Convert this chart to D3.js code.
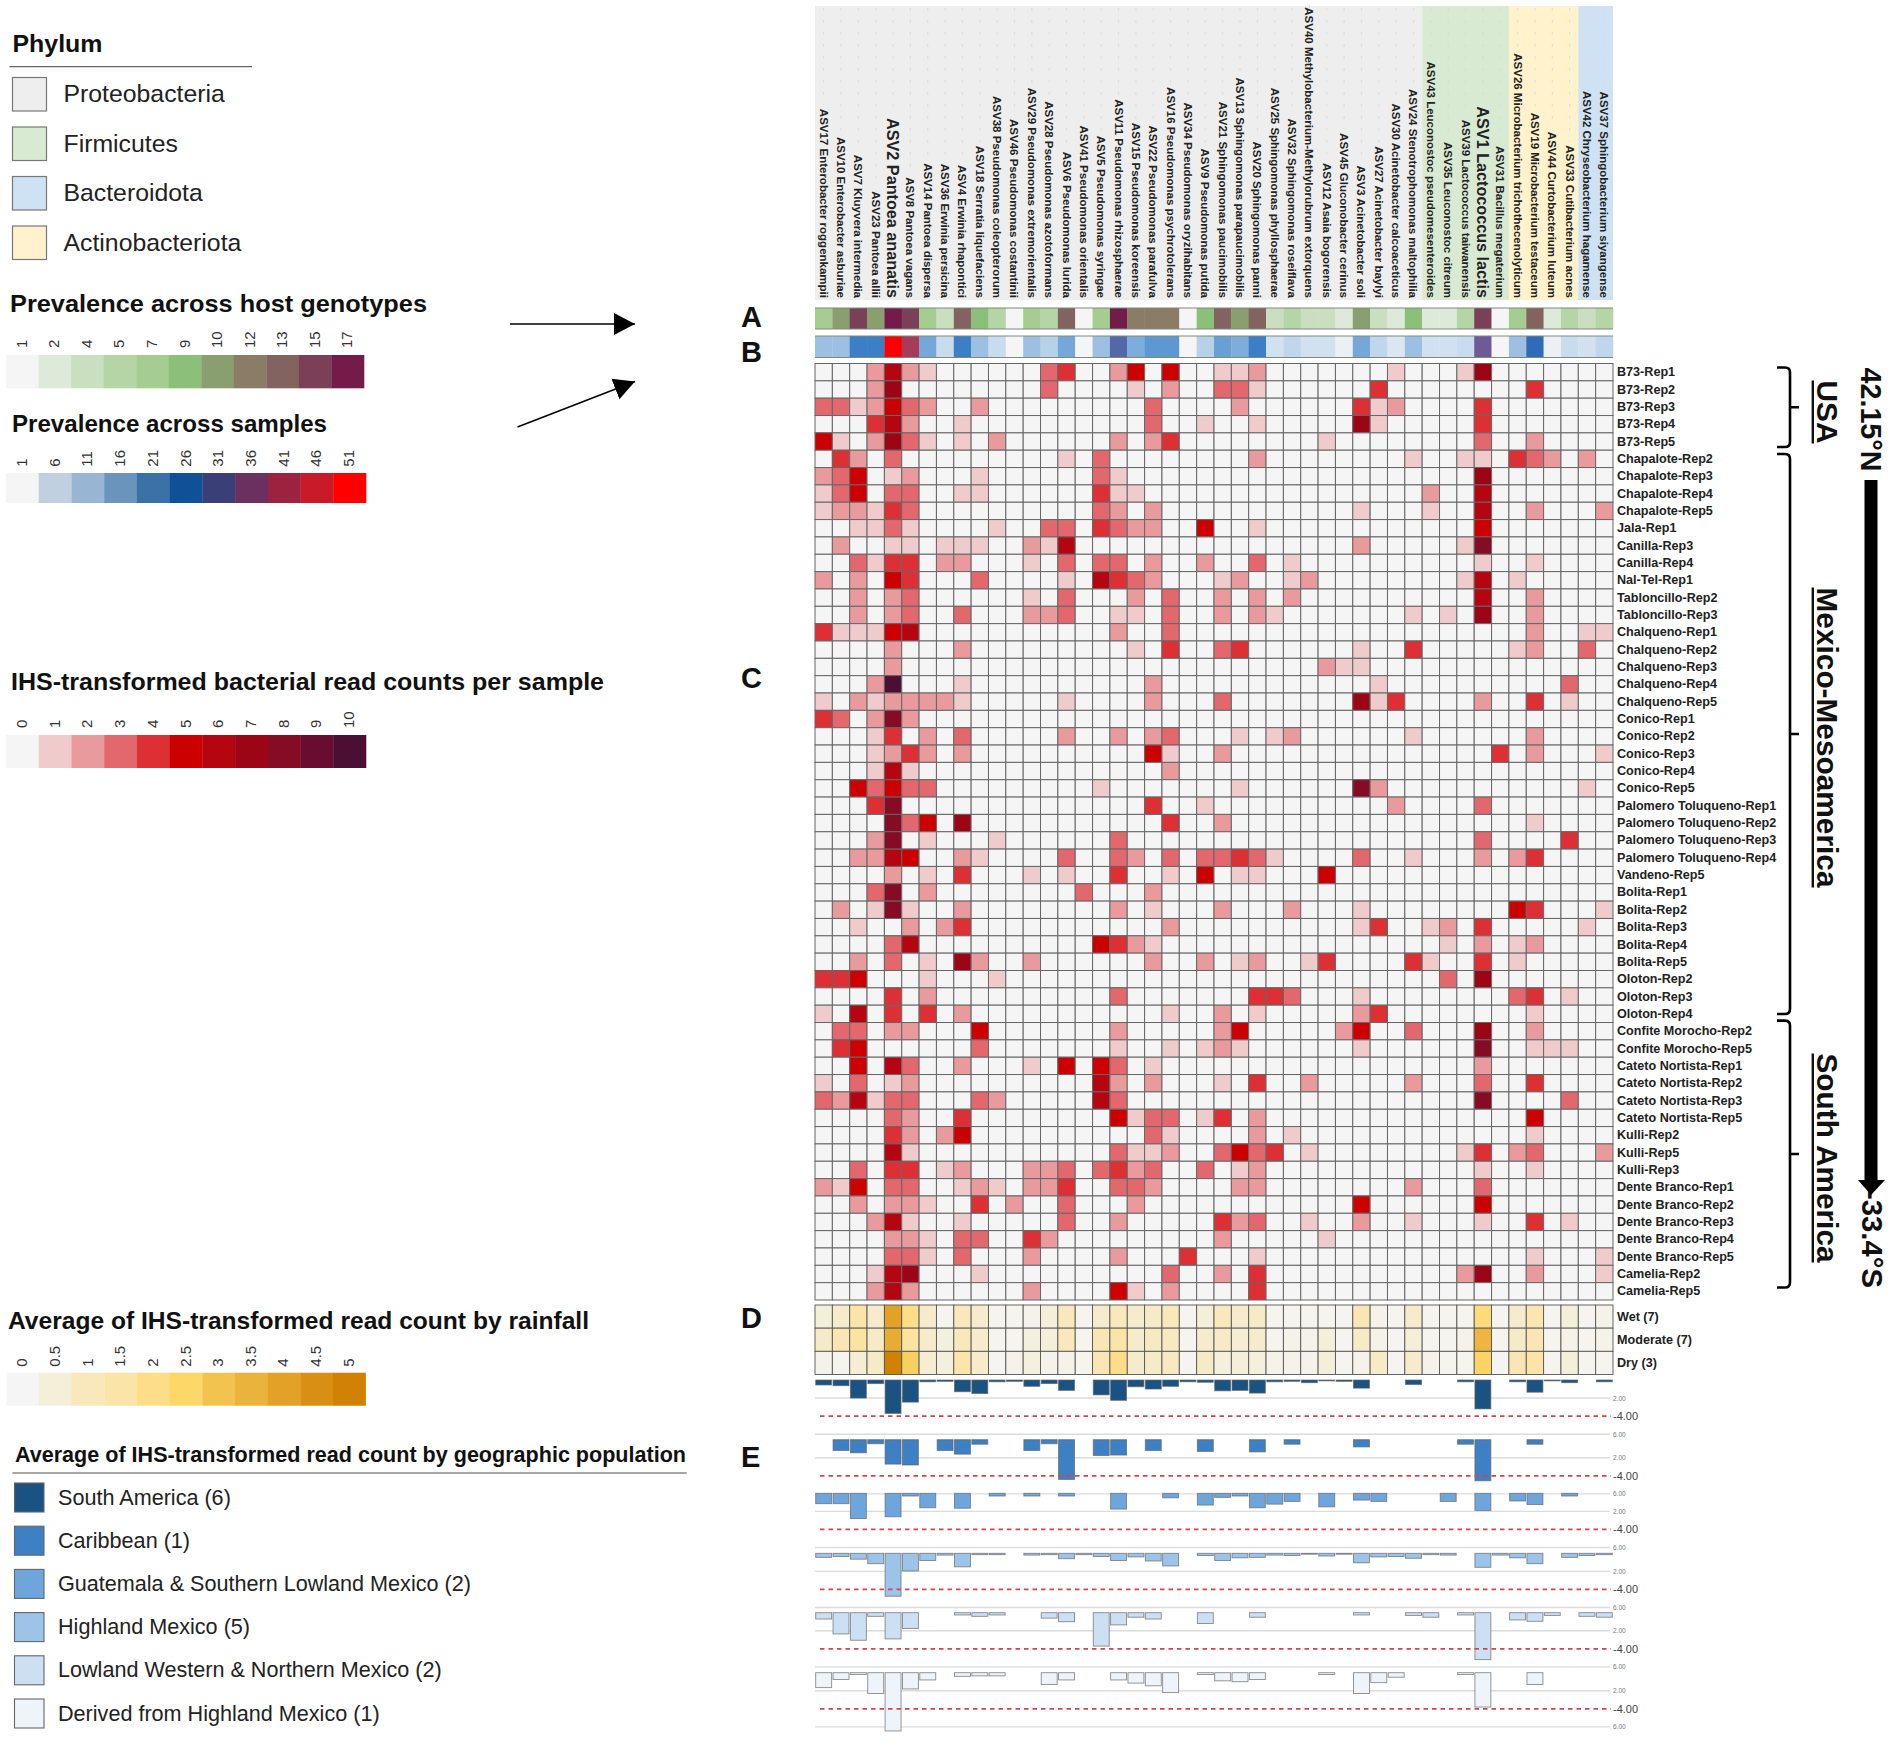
<!DOCTYPE html>
<html><head><meta charset="utf-8">
<script src="https://cdn.jsdelivr.net/npm/d3@7/dist/d3.min.js"></script>
<style>html,body{margin:0;padding:0;background:#fff}svg{display:block}text{font-family:"Liberation Sans",Arial,sans-serif}</style>
</head><body><div id="chart"></div>
<script>
// ---- categories ----
const asvNames = ["ASV17 Enterobacter roggenkampii","ASV10 Enterobacter asburiae","ASV7 Kluyvera intermedia","ASV23 Pantoea allii","ASV2 Pantoea ananatis","ASV8 Pantoea vagans","ASV14 Pantoea dispersa","ASV36 Erwinia persicina","ASV4 Erwinia rhapontici","ASV18 Serratia liquefaciens","ASV38 Pseudomonas coleopterorum","ASV46 Pseudomonas costantinii","ASV29 Pseudomonas extremorientalis","ASV28 Pseudomonas azotoformans","ASV6 Pseudomonas lurida","ASV41 Pseudomonas orientalis","ASV5 Pseudomonas syringae","ASV11 Pseudomonas rhizosphaerae","ASV15 Pseudomonas koreensis","ASV22 Pseudomonas parafulva","ASV16 Pseudomonas psychrotolerans","ASV34 Pseudomonas oryzihabitans","ASV9 Pseudomonas putida","ASV21 Sphingomonas paucimobilis","ASV13 Sphingomonas parapaucimobilis","ASV20 Sphingomonas panni","ASV25 Sphingomonas phyllosphaerae","ASV32 Sphingomonas roseiflava","ASV40 Methylobacterium-Methylorubrum extorquens","ASV12 Asaia bogorensis","ASV45 Gluconobacter cerinus","ASV3 Acinetobacter soli","ASV27 Acinetobacter baylyi","ASV30 Acinetobacter calcoaceticus","ASV24 Stenotrophomonas maltophilia","ASV43 Leuconostoc pseudomesenteroides","ASV35 Leuconostoc citreum","ASV39 Lactococcus taiwanensis","ASV1 Lactococcus lactis","ASV31 Bacillus megaterium","ASV26 Microbacterium trichothecenolyticum","ASV19 Microbacterium testaceum","ASV44 Curtobacterium luteum","ASV33 Cutibacterium acnes","ASV42 Chryseobacterium hagamense","ASV37 Sphingobacterium siyangense"];
const sampleNames = ["B73-Rep1","B73-Rep2","B73-Rep3","B73-Rep4","B73-Rep5","Chapalote-Rep2","Chapalote-Rep3","Chapalote-Rep4","Chapalote-Rep5","Jala-Rep1","Canilla-Rep3","Canilla-Rep4","Nal-Tel-Rep1","Tabloncillo-Rep2","Tabloncillo-Rep3","Chalqueno-Rep1","Chalqueno-Rep2","Chalqueno-Rep3","Chalqueno-Rep4","Chalqueno-Rep5","Conico-Rep1","Conico-Rep2","Conico-Rep3","Conico-Rep4","Conico-Rep5","Palomero Toluqueno-Rep1","Palomero Toluqueno-Rep2","Palomero Toluqueno-Rep3","Palomero Toluqueno-Rep4","Vandeno-Rep5","Bolita-Rep1","Bolita-Rep2","Bolita-Rep3","Bolita-Rep4","Bolita-Rep5","Oloton-Rep2","Oloton-Rep3","Oloton-Rep4","Confite Morocho-Rep2","Confite Morocho-Rep5","Cateto Nortista-Rep1","Cateto Nortista-Rep2","Cateto Nortista-Rep3","Cateto Nortista-Rep5","Kulli-Rep2","Kulli-Rep5","Kulli-Rep3","Dente Branco-Rep1","Dente Branco-Rep2","Dente Branco-Rep3","Dente Branco-Rep4","Dente Branco-Rep5","Camelia-Rep2","Camelia-Rep5"];
const phylumNames = ["Proteobacteria","Firmicutes","Bacteroidota","Actinobacteriota"];
const phylumCounts = [["Proteobacteria",35],["Firmicutes",5],["Actinobacteriota",4],["Bacteroidota",2]];
const rainfallNames = ["Wet (7)","Moderate (7)","Dry (3)"];
const populationNames = ["South America (6)","Caribbean (1)","Guatemala & Southern Lowland Mexico (2)","Highland Mexico (5)","Lowland Western & Northern Mexico (2)","Derived from Highland Mexico (1)"];
// ---- legend ticks ----
const genotypeTicks = [1,2,4,5,7,9,10,12,13,15,17];
const sampleTicks = [1,6,11,16,21,26,31,36,41,46,51];
const ihsTicks = [0,1,2,3,4,5,6,7,8,9,10];
const rainfallTicks = [0,0.5,1,1.5,2,2.5,3,3.5,4,4.5,5];
// ---- values ----
const prevalenceGenotypes = [7,10,15,10,17,15,7,4,13,9,5,1,7,5,13,1,7,17,12,12,12,1,9,13,10,13,4,5,4,4,2,10,4,2,9,2,2,5,15,1,7,13,2,5,4,5];
const prevalenceSamples = [11,11,21,21,51,41,16,6,21,11,6,1,11,8,16,1,11,31,15,18,18,1,8,17,15,21,5,7,5,5,2,16,7,4,11,5,5,6,36,1,11,26,2,6,5,7];
const rainfallWet = [.5,.7,1.5,.7,4,2,.7,.12,1,.7,.12,.12,.2,.5,1,.12,.7,1,.7,.8,1,.12,.5,1,.7,.8,.12,.12,.12,.12,.08,1.2,.2,.12,.7,.12,.12,.12,2.2,.12,.7,1.3,.12,.5,.12,.2];
const rainfallModerate = [.8,1.2,1.6,.8,3.7,1.6,.7,.4,1,.7,.12,.12,.4,.5,1,.12,1.2,1.5,.7,.9,.9,.08,.7,.8,.6,.7,.12,.2,.2,.5,.08,.8,.2,.08,.5,.12,.12,.2,3.4,.12,.8,1.2,.12,.2,.12,.2];
const rainfallDry = [.2,.12,.6,.8,5,2.7,.6,.4,1.4,.7,.08,.2,.4,.2,.2,.12,1.2,2,.7,.8,.9,.08,.8,.4,.5,.4,.2,.2,.2,.5,.08,.2,.8,.08,.7,.2,.12,.12,2.6,.08,1.2,1.5,.12,.5,.12,.12];
const barsSouthAmerica = [.55,.63,2,.4,3.7,2.45,.2,.15,1.3,1.5,.2,.15,.7,.4,1.15,0,1.65,2.25,.75,1,.7,.2,.25,1.2,1.15,1.45,.2,.15,.3,.1,.15,.9,0,0,.5,0,0,.2,3.2,0,.2,1.35,.1,.3,0,.2];
const barsCaribbean = [0,1.2,1.45,.45,2.7,2.8,0,1.2,1.6,.5,0,0,1.2,.45,4.4,0,1.75,1.7,0,1.2,0,0,1.3,0,0,1.35,0,.5,0,0,0,.8,0,0,0,0,0,.5,4.55,0,0,.5,0,0,0,0];
const barsGuatemala = [1.15,1.15,2.8,0,2.6,.3,1.6,0,1.65,0,.3,0,.3,0,.3,0,0,1.75,0,0,.5,0,1.3,.45,.3,1.6,1.2,.9,0,1.5,0,.75,.9,0,0,0,.9,0,1.9,0,.85,1.25,0,.3,0,0];
const barsHighland = [.45,.35,.65,1.15,4.75,1.95,.8,.2,1.5,.15,.15,0,.2,.15,.6,.15,.35,.8,.4,.85,1.4,0,.25,.8,.5,.45,.2,.25,.1,.3,.1,1.05,.4,.35,.55,.15,.2,0,1.55,.2,.5,1.15,0,.45,.25,.15];
const barsLowland = [.7,2.35,3.05,.4,2.9,1.75,0,0,.25,.4,.25,0,0,.6,1,0,3.7,1.35,.5,.7,0,0,1.2,0,0,.5,0,0,0,0,0,.25,0,0,.3,.5,0,.25,5.2,0,.8,.95,.3,0,.4,.5];
const barsDerived = [1.65,.75,.2,2.3,6.45,1.8,.8,0,.4,.35,.35,0,0,1.3,.8,0,0,.8,1.15,1.45,2.2,0,.2,.9,1,.75,0,0,0,.2,0,2.3,1.1,.5,0,0,0,.2,3.8,0,0,1.3,0,0,0,0];
// IHS counts: one entry per sample, "column:value" for non-empty cells
const heatRows = [
"3:2 4:6 5:2 6:1 13:3 14:4 17:2 18:5 20:5 23:1 24:1 25:2 33:1 37:1 38:7",
"3:2 4:7 13:3 18:1 20:2 23:3 24:3 25:1 32:4 41:4",
"0:3 1:3 2:1 3:2 4:5 5:3 6:2 9:2 19:3 24:2 31:4 32:1 33:2 38:4",
"3:4 4:6 5:2 8:1 19:3 22:1 25:1 31:7 32:1 38:4",
"0:5 1:1 3:2 4:7 5:3 6:1 8:1 10:2 17:2 19:2 20:4 29:1 38:3 41:2",
"1:4 2:2 4:3 14:1 16:3 25:2 34:1 37:1 38:1 40:4 41:3 42:2 44:2",
"0:2 1:3 2:5 4:1 5:2 9:1 16:3 17:1 38:7",
"0:1 1:3 2:5 4:3 5:3 8:1 9:1 16:4 17:1 18:1 35:2 38:6",
"0:1 1:2 2:2 3:1 4:4 5:3 16:3 17:2 19:2 31:1 35:1 38:6 41:2 45:2",
"2:1 3:1 4:3 5:1 10:1 13:3 14:3 16:4 17:3 18:2 19:2 22:5 25:1 38:5",
"1:2 4:1 5:1 7:1 8:1 9:1 12:2 13:1 14:6 31:2 37:1 38:8",
"2:3 3:1 4:4 5:4 7:2 8:2 12:1 14:3 16:3 17:3 19:2 22:2 25:3 27:1 38:1 41:1",
"0:2 2:2 4:5 5:4 9:3 14:1 16:6 17:4 18:3 19:2 23:1 24:2 27:1 28:2 37:1 38:6 40:1",
"2:2 4:2 5:3 12:1 14:3 18:2 20:3 23:2 25:2 27:2 38:6 41:2",
"2:2 4:2 5:3 8:3 12:2 13:2 14:3 17:1 18:1 20:3 23:2 25:2 26:1 34:1 36:1 38:7 41:2",
"0:4 1:1 2:1 3:1 4:5 5:6 17:2 20:3 41:2 44:1 45:1",
"4:2 8:2 18:1 20:4 23:3 24:4 31:1 34:4 40:1 41:2 44:3",
"4:2 29:2 30:1 31:1",
"3:2 4:10 8:1 19:2 32:1 43:3",
"0:1 2:2 3:1 4:2 5:2 6:2 7:2 8:1 14:1 19:2 23:3 31:7 32:1 33:4 38:2 41:4 43:1",
"0:4 1:3 3:2 4:8 5:2",
"3:1 4:4 6:2 8:3 14:2 17:2 19:2 20:3 24:1 26:1 27:2 34:1 41:2",
"3:1 4:2 5:4 6:2 8:2 19:5 20:1 23:2 39:4 41:2 45:1",
"3:1 4:6 5:1 20:2",
"2:5 3:3 4:5 5:3 6:3 16:1 24:1 31:8 32:2 44:1",
"3:4 4:8 19:4 22:1 33:2 38:3",
"4:8 5:3 6:5 8:7 20:4 23:2 41:1",
"3:2 4:8 6:1 10:1 17:3 38:3 43:4",
"2:2 3:2 4:6 5:5 8:2 9:1 14:3 17:3 18:2 20:3 22:3 23:3 24:4 25:3 26:1 31:3 34:1 38:2 40:2 41:4",
"4:2 6:1 8:4 12:1 14:1 17:4 20:1 22:5 24:1 25:1 29:5",
"3:3 4:8 6:2 15:3 19:2",
"1:2 3:1 4:8 5:1 8:2 17:2 19:1 23:2 27:2 31:1 40:5 41:4 45:1",
"2:1 5:2 7:2 8:4 20:2 31:1 32:4 35:1 36:2 38:4 44:1",
"4:3 5:6 16:5 17:4 18:2 19:1 36:1 38:2 40:1 41:2",
"2:2 4:3 6:1 8:7 9:2 12:2 19:2 22:2 24:1 25:2 28:1 29:4 34:4 35:1 38:4 40:1",
"0:4 1:4 2:5 6:1 10:1 36:3 38:7",
"4:4 6:2 17:3 25:4 26:4 27:3 31:1 40:3 41:4 43:1",
"0:1 2:6 4:4 6:4 8:2 20:1 23:2 25:1 31:2 32:4 41:1",
"1:3 2:3 4:2 5:2 9:5 17:2 23:2 24:5 30:2 31:5 34:3 38:7 41:2",
"1:4 2:5 9:3 17:1 20:1 22:1 23:2 24:1 31:1 38:8 41:1 42:1 43:1",
"2:5 4:6 5:3 8:2 12:1 14:5 16:5 17:3 19:1 38:2",
"0:1 2:3 4:1 5:2 16:6 17:2 19:2 23:1 25:4 28:2 34:2 38:3 41:4",
"0:3 1:2 2:6 3:1 4:3 5:3 9:3 10:2 16:6 17:3 38:8 43:3",
"4:3 5:2 8:4 17:5 18:1 19:3 20:3 22:1 23:4 25:2 41:5",
"4:4 5:2 7:2 8:5 19:3 20:1 25:2 27:1 41:1",
"4:6 5:1 17:3 18:1 19:1 20:2 23:3 24:5 25:3 26:4 28:1 37:1 38:4 40:2 41:3 45:2",
"2:3 4:4 5:4 7:1 8:2 12:2 13:2 14:3 16:3 17:4 18:2 19:3 22:3 24:1 25:2 38:1 41:1",
"0:2 1:1 2:5 4:3 5:3 8:1 9:2 10:1 12:2 13:2 14:4 17:3 18:3 19:2 24:2 25:2 34:2 38:3",
"2:2 4:2 5:2 6:1 9:4 11:2 14:3 18:2 31:5 38:5",
"3:2 4:6 5:1 8:1 14:3 17:2 23:4 24:2 25:3 28:1 31:2 34:1 38:1 41:4 43:1",
"4:2 5:2 6:1 8:3 9:3 12:4 13:2 23:2 29:1",
"4:3 5:3 6:1 8:3 12:2 17:2 21:4 25:1 41:1 45:1",
"3:1 4:6 5:7 9:1 20:3 23:2 25:4 37:2 38:7 41:2 45:1",
"3:2 4:6 5:2 12:2 17:5 18:1 20:2 25:4"];
// ---- palettes ----
const phylumColors = {"Proteobacteria":"#eeeeee","Firmicutes":"#d9ead3","Bacteroidota":"#cfe2f3","Actinobacteriota":"#fff2cc"};
const genotypeColors = ["#f5f5f5","#deead9","#c9dfc0","#b6d5a6","#a5cd92","#8cc07a","#8a9f70","#8a7c65","#82635f","#7b3f58","#731b49"];
const sampleLegendColors = ["#f5f5f5","#c0d0e0","#98b6d4","#6a94bc","#3a72a8","#0f5096","#3a3f78","#6b3060","#9c2340","#c81a28","#ff0000"];
const sampleStripColors = ["#f5f5f5","#c9dcee","#9dc0e2","#75a8d8","#3b7fc6","#2f6cb8","#5468a8","#6f5a98","#a83a5a","#c81a28","#ff0000"];
const ihsColors = ["#f5f5f5","#f0cbcb","#e89a9c","#e2686e","#dc3035","#cc0000","#b50510","#9c0515","#860c25","#6a0c2f","#4a0f33"];
const rainfallColors = ["#f5f5f5","#f4efd8","#f8e8bc","#fbe4a8","#fcdd88","#fdd868","#f2c34e","#eab33c","#e3a128","#d98f14","#cf8204"];
const populationColors = ["#1a5282","#3d80c4","#6ea6dc","#9cc3e8","#cde0f3","#eef4fa"];

const svg = d3.select("#chart").append("svg").attr("width",1902).attr("height",1742).attr("viewBox","0 0 1902 1742");
const x = d3.scaleBand().domain(asvNames).range([815,1613]);
const y = d3.scaleBand().domain(sampleNames).range([363.5,1300]);
const colGenotype = d3.scaleLinear().domain(genotypeTicks).range(genotypeColors).clamp(true);
const colSample = d3.scaleLinear().domain(sampleTicks).range(sampleStripColors).clamp(true);
const colIhs = d3.scaleLinear().domain(ihsTicks).range(ihsColors).clamp(true);
const colRain = d3.scaleLinear().domain(rainfallTicks).range(rainfallColors).clamp(true);

// phylum bands
let acc = 0;
phylumCounts.forEach(([name,n])=>{
  const x0 = x(asvNames[acc]); acc += n;
  svg.append("rect").attr("x",x0).attr("y",6).attr("width",n*x.bandwidth()).attr("height",294).attr("fill",phylumColors[name]);
});
// column labels
const bigLabels = {"ASV2 Pantoea ananatis":16.2,"ASV1 Lactococcus lactis":16.2};
asvNames.forEach(name=>{
  const cx = x(name)+x.bandwidth()/2;
  const t = svg.append("text").attr("transform",`translate(${cx},298) rotate(90)`).attr("text-anchor","end").attr("dy","0.35em")
    .attr("font-size",bigLabels[name]||11.5).attr("font-weight","bold").attr("fill","#222").text(name);
  const len = t.node().getComputedTextLength();
  svg.append("line").attr("x1",cx).attr("x2",cx).attr("y1",8).attr("y2",298-len-4).attr("stroke","#d8d8d8").attr("stroke-width",0.8).attr("stroke-dasharray","3 9");
});
// strips A, B
function strip(values,color,y0,y1){
  svg.append("g").selectAll("rect").data(values).join("rect")
    .attr("x",(d,i)=>x(asvNames[i])).attr("y",y0).attr("width",x.bandwidth()+.3).attr("height",y1-y0).attr("fill",d=>color(d));
  [y0,y1].forEach(v=>svg.append("line").attr("x1",815).attr("x2",1613).attr("y1",v).attr("y2",v).attr("stroke","#7f8a7f").attr("stroke-width",1.2));
}
strip(prevalenceGenotypes,colGenotype,308,329);
strip(prevalenceSamples,colSample,336,357.5);
// main heatmap
const cells = [];
heatRows.forEach((row,r)=>{
  const vals = new Array(asvNames.length).fill(0);
  row.split(" ").forEach(p=>{const [c,v]=p.split(":").map(Number);vals[c]=v;});
  vals.forEach((v,c)=>cells.push({r,c,v}));
});
svg.append("g").selectAll("rect").data(cells).join("rect")
  .attr("x",d=>x(asvNames[d.c])).attr("y",d=>y(sampleNames[d.r])).attr("width",x.bandwidth()).attr("height",y.bandwidth())
  .attr("fill",d=>colIhs(d.v)).attr("stroke","#666").attr("stroke-width",1);
const yAxis = svg.append("g").attr("transform","translate(1613,0)").call(d3.axisRight(y).tickSize(0).tickPadding(4));
yAxis.select(".domain").remove();
yAxis.selectAll("text").attr("font-size",12.6).attr("font-weight","bold").attr("fill","#222").attr("font-family",'"Liberation Sans",Arial,sans-serif');
// rainfall heatmap
const rainY = d3.scaleBand().domain(rainfallNames).range([1305,1374.5]);
[rainfallWet,rainfallModerate,rainfallDry].forEach((vals,r)=>{
  svg.append("g").selectAll("rect").data(vals).join("rect")
    .attr("x",(d,i)=>x(asvNames[i])).attr("y",rainY(rainfallNames[r])).attr("width",x.bandwidth()).attr("height",rainY.bandwidth())
    .attr("fill",d=>colRain(d)).attr("stroke","#555").attr("stroke-width",0.9);
});
const rAxis = svg.append("g").attr("transform","translate(1613,0)").call(d3.axisRight(rainY).tickSize(0).tickPadding(4));
rAxis.select(".domain").remove();
rAxis.selectAll("text").attr("font-size",12.6).attr("font-weight","bold").attr("fill","#222").attr("font-family",'"Liberation Sans",Arial,sans-serif');
// bar panels
const panels = [[barsSouthAmerica,1380],[barsCaribbean,1439.7],[barsGuatemala,1493.3],[barsHighland,1553.3],[barsLowland,1612.7],[barsDerived,1672.7]];
panels.forEach(([vals,base],p)=>{
  const sy = d3.scaleLinear().domain([0,6]).range([base,base+54.2]);
  const g = svg.append("g");
  [2,6].forEach(v=>{
    g.append("line").attr("x1",815).attr("x2",1610).attr("y1",sy(v)).attr("y2",sy(v)).attr("stroke","#dcdcdc").attr("stroke-width",1.4);
    g.append("text").attr("x",1613).attr("y",sy(v)+2.5).attr("font-size",6.5).attr("fill","#777").text(v.toFixed(2));
  });
  g.selectAll("rect").data(vals.map((v,i)=>({v,i})).filter(d=>d.v>0)).join("rect")
    .attr("x",d=>x.bandwidth()*0.04+x(asvNames[d.i])).attr("y",sy(0)).attr("width",x.bandwidth()*0.92).attr("height",d=>sy(d.v)-sy(0))
    .attr("fill",populationColors[p]).attr("stroke","#666").attr("stroke-opacity",.75).attr("stroke-width",.9);
  g.append("line").attr("x1",820).attr("x2",1611).attr("y1",sy(4)).attr("y2",sy(4)).attr("stroke","#d8424e").attr("stroke-width",1.8).attr("stroke-dasharray","4.5 4");
  g.append("text").attr("x",1613).attr("y",sy(4)+4).attr("font-size",11).attr("fill","#444").text("-4.00");
});
// panel letters
[["A",327],["B",362],["C",688],["D",1328],["E",1467]].forEach(([t,yy])=>
  svg.append("text").attr("x",741).attr("y",yy).attr("font-size",29).attr("font-weight","bold").attr("fill","#111").text(t));

// ---- left legends ----
function title(t,xx,yy,size,w){
  const s = svg.append("text").attr("x",xx).attr("y",yy).attr("font-size",size).attr("font-weight","bold").attr("fill","#111").text(t);
  if(w) s.attr("textLength",w).attr("lengthAdjust","spacingAndGlyphs");
}
title("Phylum",12.5,52,24.5,90);
svg.append("line").attr("x1",9.5).attr("x2",252).attr("y1",66.7).attr("y2",66.7).attr("stroke","#666").attr("stroke-width",1.2);
phylumNames.forEach((n,i)=>{
  const yy = 77.5+49.5*i;
  svg.append("rect").attr("x",12.5).attr("y",yy).attr("width",34).attr("height",33.5).attr("fill",phylumColors[n]).attr("stroke","#777").attr("stroke-width",1.2);
  svg.append("text").attr("x",63.5).attr("y",yy+24.5).attr("font-size",24.8).attr("fill","#222").text(n);
});
function colorBar(ticks,colors,x0,x1,y0,y1,tickBottom){
  const sb = d3.scaleBand().domain(ticks).range([x0,x1]);
  svg.append("g").selectAll("rect").data(ticks).join("rect")
    .attr("x",d=>sb(d)).attr("y",y0).attr("width",sb.bandwidth()+.3).attr("height",y1-y0).attr("fill",(d,i)=>colors[i]);
  svg.append("g").selectAll("text").data(ticks).join("text")
    .attr("transform",d=>`translate(${sb(d)+sb.bandwidth()/2+4.5},${tickBottom}) rotate(-90)`)
    .attr("font-size",15).attr("fill","#333").text(d=>d);
}
title("Prevalence across host genotypes",10,311.7,24,417);
colorBar(genotypeTicks,genotypeColors,6,364,355,388.3,348);
title("Prevalence across samples",12,431.7,24,315);
colorBar(sampleTicks,sampleLegendColors,6,366,473,503,466.7);
title("IHS-transformed bacterial read counts per sample",11,690,24,593);
colorBar(ihsTicks,ihsColors,6,366,735,768,728);
title("Average of IHS-transformed read count by rainfall",8,1329,24,581);
colorBar(rainfallTicks,rainfallColors,6.4,365.6,1372.7,1405.7,1366.7);
title("Average of IHS-transformed read count by geographic population",15,1461.7,22,671);
svg.append("line").attr("x1",12.4).attr("x2",686.7).attr("y1",1473).attr("y2",1473).attr("stroke","#888").attr("stroke-width",1.6);
populationNames.forEach((n,i)=>{
  const yy = 1483+43.2*i;
  svg.append("rect").attr("x",14.5).attr("y",yy).attr("width",29.5).attr("height",29).attr("fill",populationColors[i]).attr("stroke","#666").attr("stroke-width",1.1);
  svg.append("text").attr("x",58).attr("y",yy+21.5).attr("font-size",21.6).attr("fill","#222").text(n);
});
// arrows
svg.append("defs").append("marker").attr("id","ah").attr("markerUnits","userSpaceOnUse").attr("markerWidth",24).attr("markerHeight",24)
  .attr("refX",21).attr("refY",12).attr("orient","auto").append("path").attr("d","M0,1L21,12L0,23Z").attr("fill","#000");
[[510,324,635,324],[517.5,427,635,381.5]].forEach(a=>
  svg.append("line").attr("x1",a[0]).attr("y1",a[1]).attr("x2",a[2]).attr("y2",a[3]).attr("stroke","#000").attr("stroke-width",1.5).attr("marker-end","url(#ah)"));

// ---- right annotations ----
const braces = [[367.5,447],[454,1014],[1020.6,1287.5]];
braces.forEach(([a,b])=>{
  const m=(a+b)/2;
  svg.append("path").attr("fill","none").attr("stroke","#000").attr("stroke-width",2.6)
    .attr("d",`M1777,${a} L1785,${a} Q1790,${a} 1790,${a+5} L1790,${b-5} Q1790,${b} 1785,${b} L1777,${b} M1790,${m} L1799,${m}`);
});
const regions = [["USA",412,63],["Mexico-Mesoamerica",737.5,300],["South America",1158,209]];
regions.forEach(([t,c,w])=>{
  svg.append("text").attr("transform",`translate(1817,${c}) rotate(90)`).attr("text-anchor","middle").attr("font-size",30).attr("font-weight","bold").attr("fill","#111").attr("textLength",w).attr("lengthAdjust","spacingAndGlyphs").text(t);
  svg.append("line").attr("x1",1812.8).attr("x2",1812.8).attr("y1",c-w/2).attr("y2",c+w/2).attr("stroke","#111").attr("stroke-width",2.4);
});
svg.append("text").attr("transform","translate(1861,367.5) rotate(90)").attr("font-size",29).attr("font-weight","bold").attr("fill","#111").attr("textLength",104).attr("lengthAdjust","spacingAndGlyphs").text("42.15°N");
svg.append("text").attr("transform","translate(1862,1190) rotate(90)").attr("font-size",29).attr("font-weight","bold").attr("fill","#111").attr("textLength",98).attr("lengthAdjust","spacingAndGlyphs").text("-33.4°S");
svg.append("rect").attr("x",1864.5).attr("y",480).attr("width",13).attr("height",702).attr("fill","#000");
svg.append("path").attr("d","M1858,1180 L1885,1180 L1871,1195 Z").attr("fill","#000");
</script></body></html>
